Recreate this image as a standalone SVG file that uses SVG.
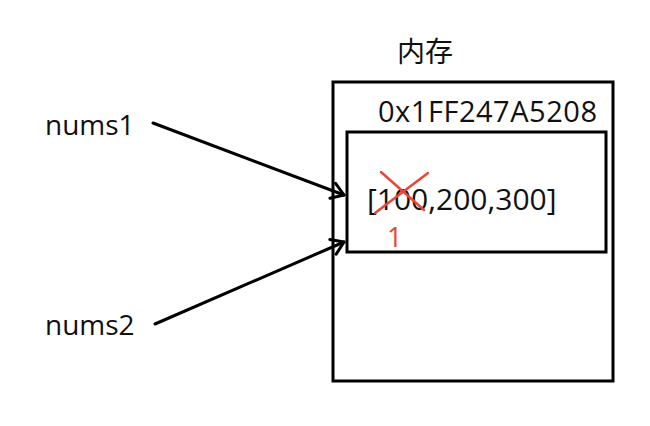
<svg xmlns="http://www.w3.org/2000/svg" width="650" height="426" viewBox="0 0 650 426">
<style>
  .t { font-family: "Open Sans", "Noto Sans", "Noto Sans CJK SC", sans-serif; fill: #111; }
  .box { fill: none; stroke: #000; stroke-width: 3; }
  .conn { fill: none; stroke: #000; stroke-width: 3; stroke-linecap: round; }
  .red { stroke: #e8463a; stroke-width: 2.5; stroke-linecap: round; fill: none; }
</style>
<defs>
  <marker id="arr" markerUnits="userSpaceOnUse" markerWidth="20" markerHeight="20" refX="15" refY="10" orient="auto">
    <path d="M3,2 L15,10 L3,18" fill="none" stroke="#000" stroke-width="3" stroke-linecap="round" stroke-linejoin="round"/>
  </marker>
</defs>
<rect width="650" height="426" fill="#fff"/>
<g id="memory">
  <text class="t" x="397" y="62" font-size="28" font-family="'Noto Sans CJK SC', sans-serif">内存</text>
  <rect class="box" x="333" y="82" width="280" height="299"/>
  <text class="t" x="378" y="122" font-size="29" textLength="219" lengthAdjust="spacing">0x1FF247A5208</text>
</g>
<g id="array">
  <rect class="box" x="347" y="132" width="259" height="120"/>
  <text class="t" x="367" y="210" font-size="30">[100,200,300]</text>
  <path class="red" d="M381,172 L424,210 M428,173 L375,213"/>
  <text x="387" y="247" font-size="27" font-family="'Open Sans', sans-serif" fill="#e8463a">1</text>
</g>
<g id="nums1">
  <text class="t" x="45" y="135" font-size="28">nums1</text>
</g>
<g id="nums2">
  <text class="t" x="45" y="335" font-size="28">nums2</text>
</g>
<g id="connectors">
  <line class="conn" x1="153" y1="123" x2="344" y2="195" marker-end="url(#arr)"/>
  <line class="conn" x1="155" y1="324" x2="344" y2="242" marker-end="url(#arr)"/>
</g>
</svg>
